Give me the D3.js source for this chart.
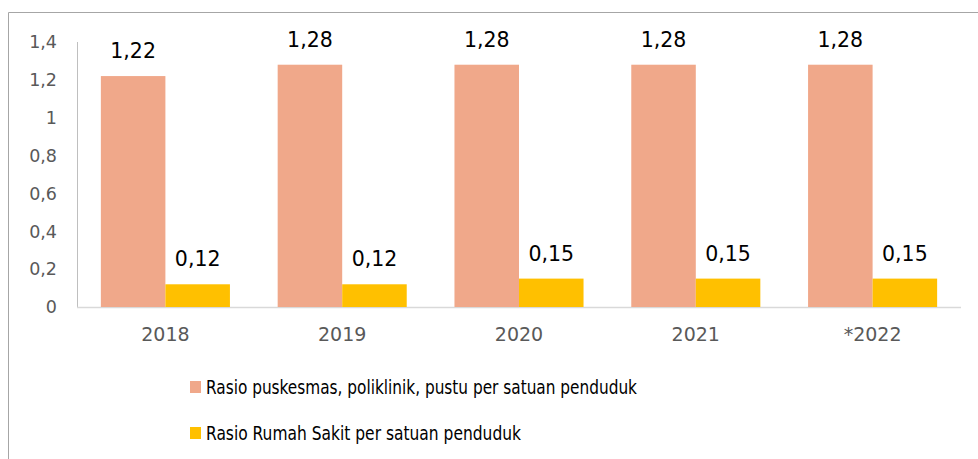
<meta charset="utf-8">
<svg width="978" height="459"></svg>
<script src="https://d3js.org/d3.v7.min.js"></script>
<style>
  body { margin: 0; }
  svg { display: block; font-family: "DejaVu Sans", sans-serif; }
</style>
<script>
// data
var years = ["2018", "2019", "2020", "2021", "*2022"];
var puskesmas = [1.22, 1.28, 1.28, 1.28, 1.28];
var rumahSakit = [0.12, 0.12, 0.15, 0.15, 0.15];
var seriesNames = ["Rasio puskesmas, poliklinik, pustu per satuan penduduk",
                   "Rasio Rumah Sakit per satuan penduduk"];
var colors = ["#F0A88A", "#FFC000"];
var yTicks = [0, 0.2, 0.4, 0.6, 0.8, 1, 1.2, 1.4];

var svg = d3.select("svg");
var fmt = function(v) { return String(v).replace(".", ","); };

// outer frame (right side runs off the image)
svg.append("path")
  .attr("d", "M8.5,459 L8.5,12.5 L978,12.5")
  .attr("fill", "none").attr("stroke", "#a6a6a6").attr("stroke-width", 1);

var x = d3.scaleBand().domain(years).range([77, 961]).paddingInner(0.27).paddingOuter(0.135);
var y = d3.scaleLinear().domain([0, 1.4]).range([307, 42]);

var rows = years.map(function(yr, i) {
  return { year: yr, vals: [puskesmas[i], rumahSakit[i]] };
});

// axes
svg.append("line").attr("x1", 77.5).attr("x2", 77.5).attr("y1", 42).attr("y2", 307)
  .attr("stroke", "#bfbfbf");
svg.append("line").attr("x1", 77).attr("x2", 961).attr("y1", 307.5).attr("y2", 307.5)
  .attr("stroke", "#d9d9d9").attr("stroke-width", 1.5);

svg.append("g").selectAll("text").data(yTicks).enter().append("text")
  .attr("x", 57).attr("y", function(d) { return y(d); })
  .attr("dy", "0.36em").attr("text-anchor", "end")
  .attr("font-size", 17.5).attr("fill", "#595959")
  .text(fmt);

svg.append("g").selectAll("text").data(years).enter().append("text")
  .attr("x", function(d) { return x(d) + x.bandwidth() / 2; })
  .attr("y", 341).attr("text-anchor", "middle")
  .attr("font-size", 19).attr("fill", "#595959")
  .text(function(d) { return d; });

var groups = svg.append("g").selectAll("g").data(rows).enter().append("g")
  .attr("transform", function(d) { return "translate(" + x(d.year) + ",0)"; });

var bw = x.bandwidth() / 2;

groups.selectAll("rect").data(function(d) { return d.vals; }).enter().append("rect")
  .attr("x", function(d, i) { return i * bw; })
  .attr("width", bw)
  .attr("y", function(d) { return y(d); })
  .attr("height", function(d) { return y(0) - y(d); })
  .attr("fill", function(d, i) { return colors[i]; });

groups.selectAll("text").data(function(d) { return d.vals; }).enter().append("text")
  .attr("x", function(d, i) { return i * bw + bw / 2; })
  .attr("y", function(d) { return y(d) - 18; })
  .attr("text-anchor", "middle")
  .attr("font-size", 20.5).attr("fill", "#000")
  .text(fmt);

// legend
var legendWidths = [431, 315];
var legend = svg.append("g").selectAll("g").data(seriesNames).enter().append("g")
  .attr("transform", function(d, i) { return "translate(190," + (381 + i * 46) + ")"; });
legend.append("rect").attr("width", 11).attr("height", 12)
  .attr("fill", function(d, i) { return colors[i]; });
legend.append("text").attr("x", 16).attr("y", 12.5)
  .attr("font-family", "'DejaVu Sans Condensed', 'DejaVu Sans', sans-serif")
  .attr("font-size", 19).attr("fill", "#000")
  .attr("textLength", function(d, i) { return legendWidths[i]; })
  .attr("lengthAdjust", "spacingAndGlyphs")
  .text(function(d) { return d; });
</script>
